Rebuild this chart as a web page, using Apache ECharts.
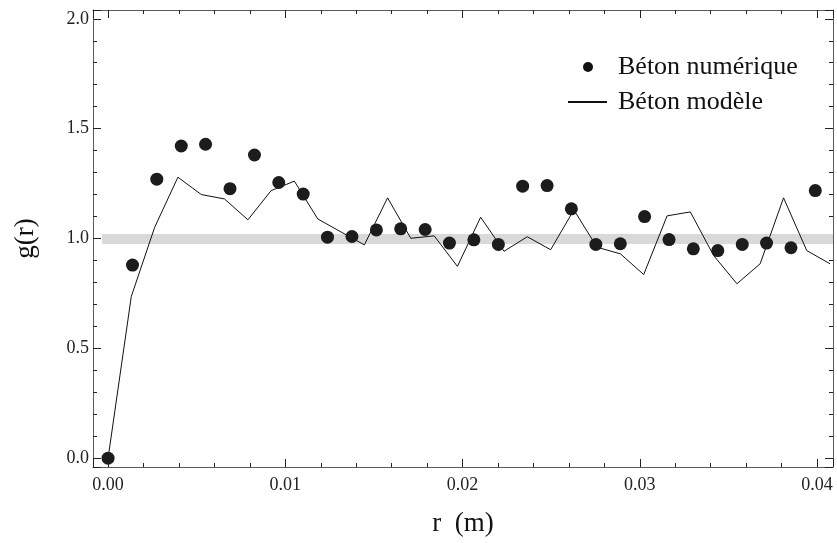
<!DOCTYPE html>
<html>
<head>
<meta charset="utf-8">
<script src="https://cdn.jsdelivr.net/npm/echarts@6/dist/echarts.min.js"></script>
<style>html,body{margin:0;padding:0;background:#fff;}#c{width:837px;height:543px;}</style>
</head>
<body>
<div id="c"></div>
<script>
// Béton numérique (points)
var rPoints = [0, 0.00138, 0.00275, 0.00413, 0.0055, 0.00688, 0.00826, 0.00963, 0.01101, 0.01238,
  0.01376, 0.01514, 0.01651, 0.01789, 0.01926, 0.02064, 0.02202, 0.02339, 0.02477, 0.02614,
  0.02752, 0.0289, 0.03027, 0.03165, 0.03302, 0.0344, 0.03578, 0.03715, 0.03853, 0.0399];
var gPoints = [0.0, 0.879, 1.270, 1.421, 1.429, 1.227, 1.380, 1.255, 1.202, 1.006,
  1.009, 1.039, 1.044, 1.041, 0.979, 0.994, 0.973, 1.238, 1.241, 1.135,
  0.973, 0.976, 1.100, 0.995, 0.953, 0.945, 0.973, 0.979, 0.958, 1.218];
// Béton modèle (line)
var rLine = [0, 0.00131, 0.00263, 0.00394, 0.00526, 0.00657, 0.00789, 0.0092, 0.01051, 0.01183,
  0.01314, 0.01446, 0.01577, 0.01708, 0.0184, 0.01971, 0.02102, 0.02234, 0.02365, 0.02497,
  0.02628, 0.02759, 0.02891, 0.03022, 0.03154, 0.03285, 0.03416, 0.03548, 0.03679, 0.03811,
  0.03942, 0.04073];
var gLine = [0, 0.736, 1.051, 1.279, 1.200, 1.180, 1.085, 1.218, 1.261, 1.089,
  1.030, 0.971, 1.185, 1.001, 1.012, 0.873, 1.097, 0.942, 1.008, 0.949,
  1.130, 0.960, 0.930, 0.836, 1.103, 1.121, 0.923, 0.794, 0.885, 1.185,
  0.945, 0.885];
var bandLow = 0.975, bandHigh = 1.02;
var seriesNames = ['Béton numérique', 'Béton modèle'];

var FONT = "Liberation Serif";
var xMin = -0.00085, xMax = 0.0409, yMin = -0.04, yMax = 2.04;
var axisColor = '#5a5a5a';

function xAx(pos, labels) {
  return {
    type: 'value', position: pos, min: xMin, max: xMax, splitNumber: 5,
    axisLine: {show: true, onZero: false, lineStyle: {color: axisColor, width: 1}},
    axisTick: {show: true, inside: true, length: 8, lineStyle: {color: '#222'}},
    minorTick: {show: true, splitNumber: 5, length: 4, lineStyle: {color: '#222'}},
    splitLine: {show: false},
    axisLabel: {show: labels, showMinLabel: false, showMaxLabel: false, margin: 9,
      fontFamily: FONT, fontSize: 18, color: '#222',
      formatter: function (v) { return v.toFixed(2); }},
    name: labels ? 'r  (m)' : '', nameLocation: 'middle', nameGap: 43,
    nameTextStyle: {fontFamily: FONT, fontSize: 27, color: '#111'}
  };
}
function yAx(pos, labels) {
  return {
    type: 'value', position: pos, min: yMin, max: yMax, splitNumber: 5,
    axisLine: {show: true, onZero: false, lineStyle: {color: axisColor, width: 1}},
    axisTick: {show: true, inside: true, length: 8, lineStyle: {color: '#222'}},
    minorTick: {show: true, splitNumber: 5, length: 4, lineStyle: {color: '#222'}},
    splitLine: {show: false},
    axisLabel: {show: labels, showMinLabel: false, showMaxLabel: false, margin: 4,
      fontFamily: FONT, fontSize: 18, color: '#222',
      formatter: function (v) { return v.toFixed(1); }},
    name: labels ? 'g(r)' : '', nameLocation: 'middle', nameGap: 54, nameRotate: 90,
    nameTextStyle: {fontFamily: FONT, fontSize: 27, color: '#111'}
  };
}

var legendText = function (pad) {
  return {
    fontFamily: FONT, fontSize: 26, color: '#111', lineHeight: 26, padding: [0, 0, 0, pad],
    rich: {a: {fontFamily: FONT, fontSize: 26, color: '#111', lineHeight: 26}}
  };
};

var chart = echarts.init(document.getElementById('c'), null, {renderer: 'canvas'});
chart.setOption({
  animation: false,
  backgroundColor: '#fff',
  textStyle: {fontFamily: FONT},
  grid: {left: 93, right: 4, top: 10, bottom: 76},
  xAxis: [xAx('bottom', true), xAx('top', false)],
  yAxis: [yAx('left', true), yAx('right', false)],
  legend: [
    {
      orient: 'vertical', left: 578, top: 49,
      itemWidth: 10, itemHeight: 10,
      formatter: '{a|{name}}',
      textStyle: legendText(20),
      data: [{name: seriesNames[0], icon: 'circle', itemStyle: {color: '#111', opacity: 1}}]
    },
    {
      orient: 'vertical', left: 563, top: 84,
      itemWidth: 39, itemHeight: 2,
      formatter: '{a|{name}}',
      textStyle: legendText(6),
      data: [{name: seriesNames[1], icon: 'rect', itemStyle: {color: '#111'}}]
    }
  ],
  series: [
    {
      name: seriesNames[1], type: 'line', xAxisIndex: 0, yAxisIndex: 0,
      data: rLine.map(function (r, i) { return [r, gLine[i]]; }),
      symbol: 'none', lineStyle: {color: '#111', width: 1}, itemStyle: {color: '#111'},
      z: 3,
      markArea: {
        silent: true,
        itemStyle: {color: '#d9d9d9'},
        data: [[{xAxis: -0.00034, yAxis: bandLow}, {xAxis: xMax, yAxis: bandHigh}]]
      }
    },
    {
      name: seriesNames[0], type: 'scatter', xAxisIndex: 0, yAxisIndex: 0,
      data: rPoints.map(function (r, i) { return [r, gPoints[i]]; }),
      symbol: 'circle', symbolSize: 13, itemStyle: {color: '#1c1c1c', opacity: 1}, z: 5
    }
  ]
});
</script>
</body>
</html>
